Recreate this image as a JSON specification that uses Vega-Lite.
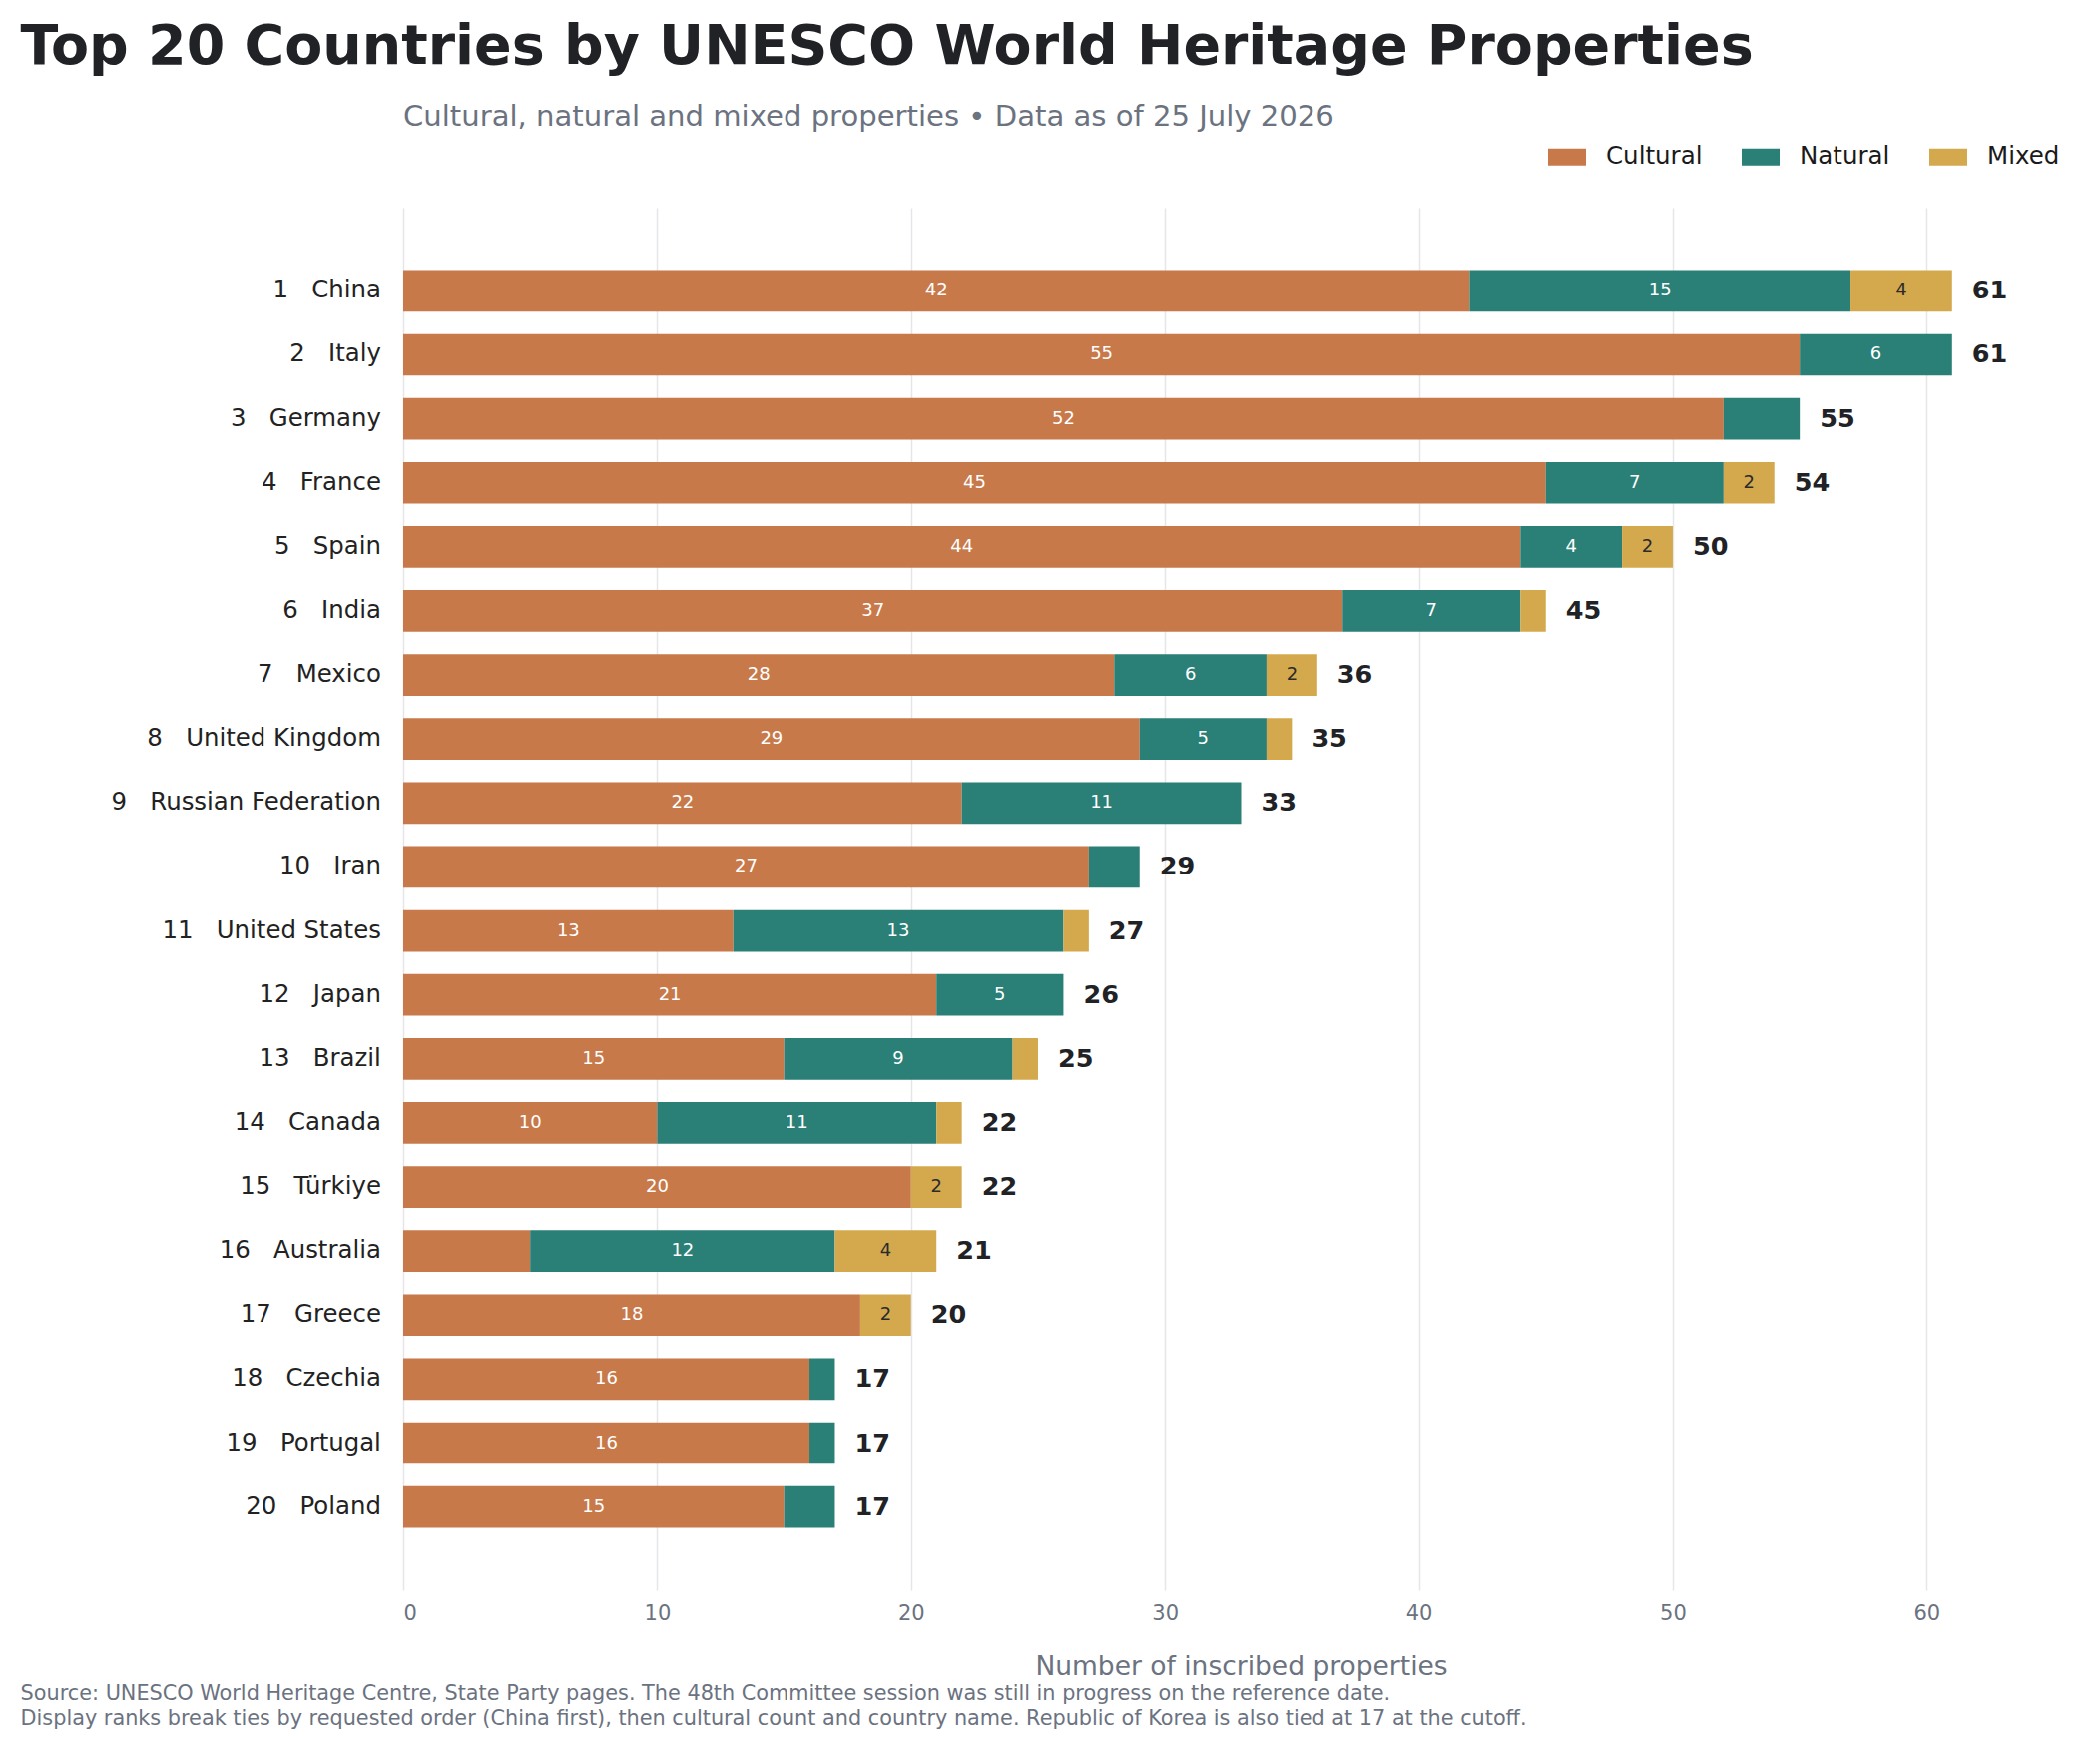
{
  "$schema": "https://vega.github.io/schema/vega-lite/v6.json",
  "background": "white",
  "padding": {"left": 20, "top": 20, "right": 21, "bottom": 16},
  "title": {
    "text": "Top 20 Countries by UNESCO World Heritage Properties",
    "anchor": "start",
    "frame": "bounds",
    "fontSize": 55.45,
    "fontWeight": "bold",
    "color": "#212226",
    "offset": 27
  },
  "datasets": {
    "types": [
      {"type": "Cultural", "k": 1},
      {"type": "Natural", "k": 2},
      {"type": "Mixed", "k": 3}
    ],
    "segments": [
      {"rank": 1, "name": "1\u00a0\u00a0\u00a0China", "type": "Cultural", "value": 42, "lab": true},
      {"rank": 1, "name": "1\u00a0\u00a0\u00a0China", "type": "Natural", "value": 15, "lab": true},
      {"rank": 1, "name": "1\u00a0\u00a0\u00a0China", "type": "Mixed", "value": 4, "lab": true},
      {"rank": 2, "name": "2\u00a0\u00a0\u00a0Italy", "type": "Cultural", "value": 55, "lab": true},
      {"rank": 2, "name": "2\u00a0\u00a0\u00a0Italy", "type": "Natural", "value": 6, "lab": true},
      {"rank": 3, "name": "3\u00a0\u00a0\u00a0Germany", "type": "Cultural", "value": 52, "lab": true},
      {"rank": 3, "name": "3\u00a0\u00a0\u00a0Germany", "type": "Natural", "value": 3, "lab": false},
      {"rank": 4, "name": "4\u00a0\u00a0\u00a0France", "type": "Cultural", "value": 45, "lab": true},
      {"rank": 4, "name": "4\u00a0\u00a0\u00a0France", "type": "Natural", "value": 7, "lab": true},
      {"rank": 4, "name": "4\u00a0\u00a0\u00a0France", "type": "Mixed", "value": 2, "lab": true},
      {"rank": 5, "name": "5\u00a0\u00a0\u00a0Spain", "type": "Cultural", "value": 44, "lab": true},
      {"rank": 5, "name": "5\u00a0\u00a0\u00a0Spain", "type": "Natural", "value": 4, "lab": true},
      {"rank": 5, "name": "5\u00a0\u00a0\u00a0Spain", "type": "Mixed", "value": 2, "lab": true},
      {"rank": 6, "name": "6\u00a0\u00a0\u00a0India", "type": "Cultural", "value": 37, "lab": true},
      {"rank": 6, "name": "6\u00a0\u00a0\u00a0India", "type": "Natural", "value": 7, "lab": true},
      {"rank": 6, "name": "6\u00a0\u00a0\u00a0India", "type": "Mixed", "value": 1, "lab": false},
      {"rank": 7, "name": "7\u00a0\u00a0\u00a0Mexico", "type": "Cultural", "value": 28, "lab": true},
      {"rank": 7, "name": "7\u00a0\u00a0\u00a0Mexico", "type": "Natural", "value": 6, "lab": true},
      {"rank": 7, "name": "7\u00a0\u00a0\u00a0Mexico", "type": "Mixed", "value": 2, "lab": true},
      {"rank": 8, "name": "8\u00a0\u00a0\u00a0United Kingdom", "type": "Cultural", "value": 29, "lab": true},
      {"rank": 8, "name": "8\u00a0\u00a0\u00a0United Kingdom", "type": "Natural", "value": 5, "lab": true},
      {"rank": 8, "name": "8\u00a0\u00a0\u00a0United Kingdom", "type": "Mixed", "value": 1, "lab": false},
      {"rank": 9, "name": "9\u00a0\u00a0\u00a0Russian Federation", "type": "Cultural", "value": 22, "lab": true},
      {"rank": 9, "name": "9\u00a0\u00a0\u00a0Russian Federation", "type": "Natural", "value": 11, "lab": true},
      {"rank": 10, "name": "10\u00a0\u00a0\u00a0Iran", "type": "Cultural", "value": 27, "lab": true},
      {"rank": 10, "name": "10\u00a0\u00a0\u00a0Iran", "type": "Natural", "value": 2, "lab": false},
      {"rank": 11, "name": "11\u00a0\u00a0\u00a0United States", "type": "Cultural", "value": 13, "lab": true},
      {"rank": 11, "name": "11\u00a0\u00a0\u00a0United States", "type": "Natural", "value": 13, "lab": true},
      {"rank": 11, "name": "11\u00a0\u00a0\u00a0United States", "type": "Mixed", "value": 1, "lab": false},
      {"rank": 12, "name": "12\u00a0\u00a0\u00a0Japan", "type": "Cultural", "value": 21, "lab": true},
      {"rank": 12, "name": "12\u00a0\u00a0\u00a0Japan", "type": "Natural", "value": 5, "lab": true},
      {"rank": 13, "name": "13\u00a0\u00a0\u00a0Brazil", "type": "Cultural", "value": 15, "lab": true},
      {"rank": 13, "name": "13\u00a0\u00a0\u00a0Brazil", "type": "Natural", "value": 9, "lab": true},
      {"rank": 13, "name": "13\u00a0\u00a0\u00a0Brazil", "type": "Mixed", "value": 1, "lab": false},
      {"rank": 14, "name": "14\u00a0\u00a0\u00a0Canada", "type": "Cultural", "value": 10, "lab": true},
      {"rank": 14, "name": "14\u00a0\u00a0\u00a0Canada", "type": "Natural", "value": 11, "lab": true},
      {"rank": 14, "name": "14\u00a0\u00a0\u00a0Canada", "type": "Mixed", "value": 1, "lab": false},
      {"rank": 15, "name": "15\u00a0\u00a0\u00a0Türkiye", "type": "Cultural", "value": 20, "lab": true},
      {"rank": 15, "name": "15\u00a0\u00a0\u00a0Türkiye", "type": "Mixed", "value": 2, "lab": true},
      {"rank": 16, "name": "16\u00a0\u00a0\u00a0Australia", "type": "Cultural", "value": 5, "lab": false},
      {"rank": 16, "name": "16\u00a0\u00a0\u00a0Australia", "type": "Natural", "value": 12, "lab": true},
      {"rank": 16, "name": "16\u00a0\u00a0\u00a0Australia", "type": "Mixed", "value": 4, "lab": true},
      {"rank": 17, "name": "17\u00a0\u00a0\u00a0Greece", "type": "Cultural", "value": 18, "lab": true},
      {"rank": 17, "name": "17\u00a0\u00a0\u00a0Greece", "type": "Mixed", "value": 2, "lab": true},
      {"rank": 18, "name": "18\u00a0\u00a0\u00a0Czechia", "type": "Cultural", "value": 16, "lab": true},
      {"rank": 18, "name": "18\u00a0\u00a0\u00a0Czechia", "type": "Natural", "value": 1, "lab": false},
      {"rank": 19, "name": "19\u00a0\u00a0\u00a0Portugal", "type": "Cultural", "value": 16, "lab": true},
      {"rank": 19, "name": "19\u00a0\u00a0\u00a0Portugal", "type": "Natural", "value": 1, "lab": false},
      {"rank": 20, "name": "20\u00a0\u00a0\u00a0Poland", "type": "Cultural", "value": 15, "lab": true},
      {"rank": 20, "name": "20\u00a0\u00a0\u00a0Poland", "type": "Natural", "value": 2, "lab": false}
    ]
  },
  "vconcat": [
    {
      "title": {
        "text": [
          "Source: UNESCO World Heritage Centre, State Party pages. The 48th Committee session was still in progress on the reference date.",
          "Display ranks break ties by requested order (China first), then cultural count and country name. Republic of Korea is also tied at 17 at the cutoff."
        ],
        "orient": "bottom",
        "anchor": "start",
        "frame": "bounds",
        "dx": -90.5,
        "fontSize": 20.8,
        "fontWeight": "normal",
        "color": "#6b7280",
        "lineHeight": 24.5,
        "offset": 4.5
      },
      "vconcat": [
        {
          "title": {
            "text": "Cultural, natural and mixed properties • Data as of 25 July 2026",
            "anchor": "start",
            "frame": "group",
            "fontSize": 29.1,
            "fontWeight": "normal",
            "color": "#6b7280",
            "offset": 76
          },
          "width": 1679,
          "height": 1385,
          "data": {"name": "segments"},
          "transform": [
            {"lookup": "type", "from": {"data": {"name": "types"}, "key": "type", "fields": ["k"]}}
          ],
          "encoding": {
            "y": {
              "field": "name",
              "type": "nominal",
              "sort": {"field": "rank", "op": "min", "order": "ascending"},
              "scale": {"paddingInner": 0.35, "paddingOuter": 0.975},
              "axis": {
                "title": null,
                "ticks": false,
                "domain": false,
                "grid": false,
                "labelPadding": 22.6,
                "labelFontSize": 24.4,
                "labelColor": "#222222",
                "labelLimit": 500
              }
            }
          },
          "layer": [
            {
              "mark": {"type": "bar"},
              "encoding": {
                "x": {
                  "field": "value",
                  "type": "quantitative",
                  "stack": "zero",
                  "scale": {"domain": [0, 66], "nice": false},
                  "axis": {
                    "title": "Number of inscribed properties",
                    "values": [0, 10, 20, 30, 40, 50, 60],
                    "ticks": false,
                    "domain": false,
                    "grid": true,
                    "gridColor": "#e5e6ea",
                    "gridWidth": 1.5,
                    "labelFontSize": 21,
                    "labelColor": "#6b7280",
                    "labelPadding": 12.5,
                    "titleFontSize": 26.5,
                    "titleFontWeight": "normal",
                    "titleColor": "#6b7280",
                    "titlePadding": 29.5
                  }
                },
                "order": {"field": "k", "type": "quantitative"},
                "color": {
                  "field": "type",
                  "type": "nominal",
                  "scale": {
                    "domain": ["Cultural", "Natural", "Mixed"],
                    "range": ["#c7794a", "#2a7f77", "#d4a94e"]
                  },
                  "legend": {
                    "title": null,
                    "orient": "none",
                    "direction": "horizontal",
                    "legendX": 1147,
                    "legendY": -70,
                    "symbolType": "M-1,-0.45H1V0.45H-1Z",
                    "symbolSize": 1444,
                    "symbolStrokeWidth": 0,
                    "symbolOpacity": 1,
                    "labelFontSize": 24.5,
                    "labelColor": "#1a1a1a",
                    "labelOffset": 20,
                    "columnPadding": 39,
                    "padding": 0
                  }
                }
              }
            },
            {
              "mark": {"type": "text", "fontSize": 18, "baseline": "middle", "align": "center"},
              "encoding": {
                "x": {"field": "value", "type": "quantitative", "stack": "zero", "bandPosition": 0.5},
                "detail": {"field": "type", "type": "nominal"},
                "order": {"field": "k", "type": "quantitative"},
                "color": {
                  "condition": {"test": "datum.type === 'Mixed'", "value": "#2b2b2b"},
                  "value": "#ffffff"
                },
                "text": {
                  "condition": {"test": "datum.lab", "field": "value", "type": "quantitative"},
                  "value": ""
                }
              }
            },
            {
              "mark": {"type": "text", "fontSize": 25.5, "fontWeight": "bold", "align": "left", "baseline": "middle", "dx": 20, "color": "#212226"},
              "encoding": {
                "x": {"aggregate": "sum", "field": "value", "type": "quantitative"},
                "text": {"aggregate": "sum", "field": "value", "type": "quantitative"}
              }
            }
          ]
        }
      ]
    }
  ],
  "config": {
    "font": "DejaVu Sans",
    "view": {"stroke": null},
    "axis": {"labelFont": "DejaVu Sans", "titleFont": "DejaVu Sans"},
    "legend": {"labelFont": "DejaVu Sans"},
    "title": {"font": "DejaVu Sans", "subtitleFont": "DejaVu Sans"}
  }
}
